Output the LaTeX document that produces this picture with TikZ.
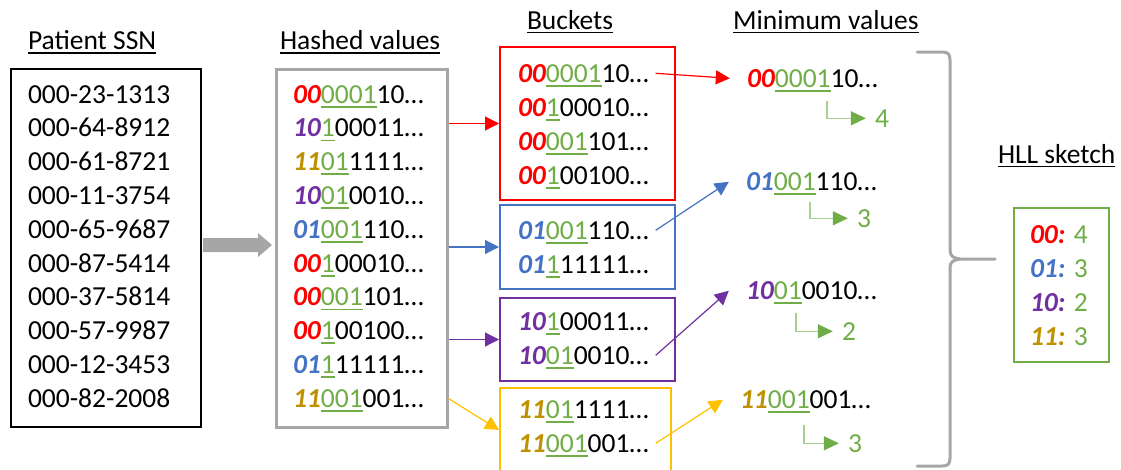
\documentclass[tikz,border=0pt]{standalone}
\usepackage{fontspec}
\setmainfont{Carlito}
\usetikzlibrary{arrows.meta}

\definecolor{hred}{HTML}{FF0000}
\definecolor{hblue}{HTML}{4472C4}
\definecolor{hpurple}{HTML}{7030A0}
\definecolor{hgold}{HTML}{BF9000}
\definecolor{hyellow}{HTML}{FFC000}
\definecolor{hgreen}{HTML}{70AD47}
\definecolor{hlgreen}{HTML}{A9D18E}
\definecolor{hgray}{HTML}{A6A6A6}

\newcommand\bigtxt{\fontsize{27.5}{33}\selectfont}
% green digits with a green rule underneath
\newcommand\grnul[1]{\setbox0\hbox{#1}\rlap{\smash{\color{hgreen}\rule[-4.6pt]{\wd0}{1.8pt}}}{\color{hgreen}#1}}
% bold italic bucket prefix
\newcommand\pfx[2]{{\bfseries\itshape\color{#1}#2}}
% hashed value: prefix, run of leading zeros up to the first 1, remaining bits
\newcommand\hv[4]{\pfx{#1}{#2}\grnul{#3}#4}
% underlined column heading
\newcommand\hdr[1]{\setbox0\hbox{#1}\rlap{\smash{\rule[-4pt]{\wd0}{1.5pt}}}#1}

\tikzset{
  txt/.style={anchor=text, inner xsep=0pt, inner ysep=0pt,
    text height=17.4pt, text depth=0pt, font=\bigtxt},
  brow/.style={txt, inner xsep=7pt},
  mrow/.style={txt, inner xsep=17pt},
  num/.style={txt, inner xsep=9pt, text=hgreen},
  box/.style={draw, line width=2pt, anchor=north west, inner sep=0pt},
  conn/.style={line width=1.2pt, -{Triangle[length=14pt, width=14pt]}},
  elbow/.style={draw=hlgreen, line width=1.5pt,
    -{Triangle[length=15pt, width=14pt, color=hgreen]}},
}

\begin{document}
\begin{tikzpicture}[x=1pt, y=-1pt]
\useasboundingbox (0,0) rectangle (1121,469);

% column headings
\node[txt] (hssn)  at (28,49.5)  {\hdr{Patient SSN}};
\node[txt] (hhash) at (280,49.5) {\hdr{Hashed values}};
\node[txt] (hbuck) at (527,29)   {\hdr{Buckets}};
\node[txt] (hmin)  at (733,29)   {\hdr{Minimum values}};
\node[txt] (hhll)  at (998,163)  {\hdr{HLL sketch}};

% patient SSN list
\node[box, minimum width=190pt, minimum height=358pt] (ssn) at (10,68) {};
\node[txt] (s1)  at (28,103)   {000-23-1313};
\node[txt] (s2)  at (28,136.8) {000-64-8912};
\node[txt] (s3)  at (28,170.6) {000-61-8721};
\node[txt] (s4)  at (28,204.4) {000-11-3754};
\node[txt] (s5)  at (28,238.2) {000-65-9687};
\node[txt] (s6)  at (28,272)   {000-87-5414};
\node[txt] (s7)  at (28,305.8) {000-37-5814};
\node[txt] (s8)  at (28,339.6) {000-57-9987};
\node[txt] (s9)  at (28,373.4) {000-12-3453};
\node[txt] (s10) at (28,407.2) {000-82-2008};

% hashing step
\fill[hgray] (203,238) -- (258,238) -- (258,233) -- (272,245) -- (258,257)
  -- (258,252) -- (203,252) -- cycle;

% hashed values
\node[box, draw=hgray, line width=2.5pt, minimum width=171pt, minimum height=358pt] (hb) at (275,68) {};
\node[txt] (h1)  at (293,103)   {\hv{hred}{00}{0001}{10…}};
\node[txt] (h2)  at (293,136.8) {\hv{hpurple}{10}{1}{00011…}};
\node[txt] (h3)  at (293,170.6) {\hv{hgold}{11}{01}{1111…}};
\node[txt] (h4)  at (293,204.4) {\hv{hpurple}{10}{01}{0010…}};
\node[txt] (h5)  at (293,238.2) {\hv{hblue}{01}{001}{110…}};
\node[txt] (h6)  at (293,272)   {\hv{hred}{00}{1}{00010…}};
\node[txt] (h7)  at (293,305.8) {\hv{hred}{00}{001}{101…}};
\node[txt] (h8)  at (293,339.6) {\hv{hred}{00}{1}{00100…}};
\node[txt] (h9)  at (293,373.4) {\hv{hblue}{01}{1}{11111…}};
\node[txt] (h10) at (293,407.2) {\hv{hgold}{11}{001}{001…}};

% buckets
\node[box, draw=hred,    minimum width=175pt, minimum height=153pt] (rb) at (499,46)  {};
\node[box, draw=hblue,   minimum width=175pt, minimum height=84pt]  (bb) at (499,204) {};
\node[box, draw=hpurple, minimum width=175pt, minimum height=83pt]  (pb) at (499,297) {};
\node[box, draw=hyellow, minimum width=171pt, minimum height=84pt]  (yb) at (499,387) {};

\node[brow] (r1) at (518,82)  {\hv{hred}{00}{0001}{10…}};
\node[brow] (r2) at (518,116) {\hv{hred}{00}{1}{00010…}};
\node[brow] (r3) at (518,150) {\hv{hred}{00}{001}{101…}};
\node[brow] (r4) at (518,184) {\hv{hred}{00}{1}{00100…}};
\node[brow] (b1) at (518,239) {\hv{hblue}{01}{001}{110…}};
\node[brow] (b2) at (518,273) {\hv{hblue}{01}{1}{11111…}};
\node[brow] (p1) at (518,330) {\hv{hpurple}{10}{1}{00011…}};
\node[brow] (p2) at (518,364) {\hv{hpurple}{10}{01}{0010…}};
\node[brow] (y1) at (518,418) {\hv{hgold}{11}{01}{1111…}};
\node[brow] (y2) at (518,452) {\hv{hgold}{11}{001}{001…}};

\draw[conn, hred]    (hb.east |- rb.west) -- (rb.west);
\draw[conn, hblue]   (hb.east |- bb.west) -- (bb.west);
\draw[conn, hpurple] (hb.east |- pb.west) -- (pb.west);
\draw[conn, hyellow] (hb.east |- h10.east) -- (yb.west);

% minimum value per bucket
\node[mrow] (m1) at (747,87)    {\hv{hred}{00}{0001}{10…}};
\node[mrow] (m2) at (746,190.5) {\hv{hblue}{01}{001}{110…}};
\node[mrow] (m3) at (746,299.5) {\hv{hpurple}{10}{01}{0010…}};
\node[mrow] (m4) at (740,408.5) {\hv{hgold}{11}{001}{001…}};

\draw[conn, hred]    (r1.east) -- (m1.west);
\draw[conn, hblue]   (b1.east) -- (m2.west);
\draw[conn, hpurple] (p2.east) -- (m3.west);
\draw[conn, hyellow] (y2.east) -- (m4.west);

% position of the first 1
\node[num] (n1) at (875,127) {4};
\node[num] (n2) at (857,227) {3};
\node[num] (n3) at (842,340) {2};
\node[num] (n4) at (848,452) {3};
\coordinate (e1) at (827,101);
\coordinate (e2) at (810,202);
\coordinate (e3) at (796,313);
\coordinate (e4) at (804,425);
\draw[elbow] (e1) |- (n1.west);
\draw[elbow] (e2) |- (n2.west);
\draw[elbow] (e3) |- (n3.west);
\draw[elbow] (e4) |- (n4.west);

% brace collecting the minima
\draw[hgray, line width=3pt, line cap=round, line join=round]
  (917,52) -- (942,52) .. controls (948,52) and (950,54) .. (950,60)
  -- (950,250) .. controls (950,256) and (953,258) .. (960,259) -- (995,259);
\draw[hgray, line width=3pt, line cap=round, line join=round]
  (960,259) .. controls (953,260) and (950,262) .. (950,268)
  -- (950,458) .. controls (950,464) and (948,466) .. (942,466) -- (917,466);

% HLL sketch
\node[box, draw=hgreen, minimum width=95pt, minimum height=154pt] (hll) at (1013,207) {};
\node[txt] (k1) at (1030,243) {\pfx{hred}{00:} {\color{hgreen}4}};
\node[txt] (k2) at (1030,277) {\pfx{hblue}{01:} {\color{hgreen}3}};
\node[txt] (k3) at (1030,311) {\pfx{hpurple}{10:} {\color{hgreen}2}};
\node[txt] (k4) at (1030,345) {\pfx{hgold}{11:} {\color{hgreen}3}};
\end{tikzpicture}
\end{document}
